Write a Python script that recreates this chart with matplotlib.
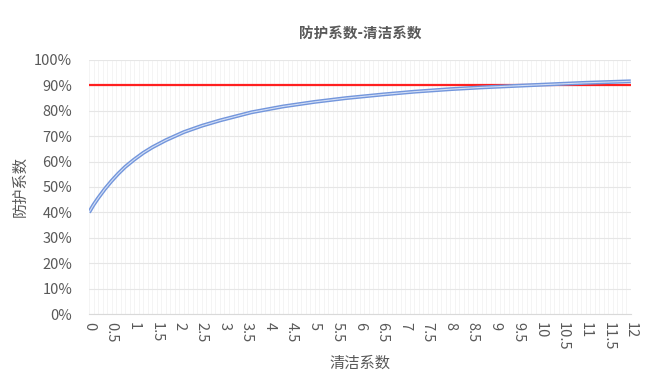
import numpy as np
import matplotlib.pyplot as plt
from matplotlib.ticker import MultipleLocator, PercentFormatter

plt.rcParams['font.family'] = ['Noto Sans CJK SC', 'DejaVu Sans']

# values
clean = [0, 0.1, 0.2, 0.35, 0.5, 0.65, 0.8, 1, 1.2, 1.4, 1.7, 2.1, 2.5, 2.9,
         3.6, 4.3, 5, 5.7, 6.5, 7.2, 8, 8.7, 9.7, 11, 12]
protect = [0.400, 0.430, 0.456, 0.492, 0.524, 0.553, 0.579, 0.608, 0.634,
           0.656, 0.684, 0.716, 0.741, 0.762, 0.794, 0.817, 0.835, 0.850,
           0.864, 0.875, 0.885, 0.892, 0.900, 0.910, 0.916]
target = 0.90
xticks = np.arange(0, 12.01, 0.5)
xticklabels = ['%g' % v for v in xticks]

grey = '#595959'
fig = plt.figure(figsize=(6.47, 3.77), dpi=100)
ax = fig.add_axes([0.1376, 0.167, 0.8374, 0.674])

ax.axhline(target, color='#FF2020', lw=1.6, zorder=3)
ax.plot(clean, protect, color='#7396DC', lw=2.8, solid_capstyle='butt', zorder=4)
ax.plot(clean, protect, color='#D4DFF5', lw=0.8, solid_capstyle='butt', zorder=5)

ax.set_xlim(0, 12)
ax.set_ylim(0, 1)
ax.yaxis.set_major_locator(MultipleLocator(0.1))
ax.yaxis.set_major_formatter(PercentFormatter(1.0, decimals=0))
ax.set_xticks(xticks)
ax.set_xticklabels(xticklabels, rotation=270, ha='center', va='top')
ax.xaxis.set_minor_locator(MultipleLocator(0.1))

ax.grid(axis='y', which='major', color='#E6E6E6', lw=0.8)
ax.grid(axis='x', which='both', color='#F2F2F2', lw=0.6)
ax.set_axisbelow(True)

for s in ['top', 'right', 'left']:
    ax.spines[s].set_visible(False)
ax.spines['bottom'].set_color('#D9D9D9')
ax.tick_params(axis='both', which='both', length=0, colors=grey, labelsize=10.5)
ax.tick_params(axis='y', pad=12)
ax.tick_params(axis='x', pad=6)

ax.set_title('防护系数-清洁系数', color=grey, fontsize=10.5, fontweight='bold', pad=16)
ax.set_xlabel('清洁系数', color=grey, fontsize=11, labelpad=3)
ax.set_ylabel('防护系数', color=grey, fontsize=11, labelpad=4)

fig.savefig('out.png', dpi=100)
